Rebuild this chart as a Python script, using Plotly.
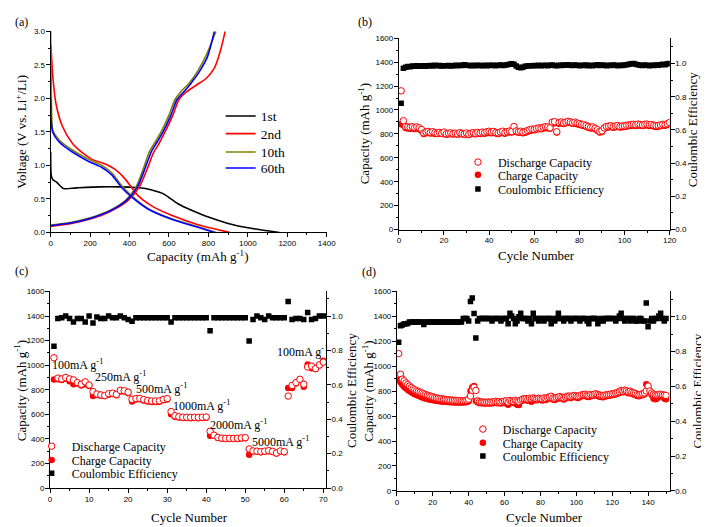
import plotly.graph_objects as go

W, H = 709, 527
SERIF = "Liberation Serif, Times New Roman, Times, serif"
SANS = "Liberation Sans, Arial, sans-serif"

# ---------------- (a) voltage profiles ----------------
c1_dis_cap = [0, 3, 10, 30, 65, 130, 250, 350, 430, 480, 530, 570, 610, 650, 700, 800, 900, 1000, 1100, 1160]
c1_dis_v = [1.2, 0.85, 0.79, 0.75, 0.655, 0.665, 0.68, 0.68, 0.67, 0.655, 0.62, 0.58, 0.5, 0.42, 0.35, 0.23, 0.135, 0.07, 0.025, 0.0]

c2_dis_cap = [0, 2, 5, 10, 27, 60, 110, 160, 210, 277, 327, 377, 443, 510, 610, 743, 850, 910]
c2_dis_v = [2.8, 2.75, 2.6, 2.36, 1.92, 1.58, 1.33, 1.19, 1.09, 1.02, 0.94, 0.80, 0.55, 0.40, 0.26, 0.12, 0.04, 0.0]
c2_chg_cap = [0, 100, 200, 300, 390, 450, 490, 520, 550, 580, 620, 650, 690, 740, 790, 830, 860, 885]
c2_chg_v = [0.09, 0.13, 0.2, 0.31, 0.47, 0.68, 0.95, 1.18, 1.33, 1.5, 1.75, 1.98, 2.1, 2.2, 2.3, 2.45, 2.7, 3.0]

c10_dis_cap = [0, 2, 5, 10, 43, 110, 193, 260, 310, 360, 410, 493, 610, 743, 840]
c10_dis_v = [3.0, 2.4, 1.75, 1.53, 1.38, 1.23, 1.09, 1.0, 0.89, 0.70, 0.55, 0.36, 0.21, 0.09, 0.0]
c10_chg_cap = [0, 100, 200, 300, 380, 430, 470, 500, 530, 560, 600, 630, 660, 700, 740, 790, 838]
c10_chg_v = [0.11, 0.15, 0.22, 0.33, 0.48, 0.66, 0.95, 1.2, 1.35, 1.5, 1.75, 1.98, 2.1, 2.22, 2.38, 2.65, 3.0]

c60_dis_cap = [0, 2, 5, 10, 43, 110, 193, 260, 310, 360, 410, 493, 610, 743, 830]
c60_dis_v = [2.0, 1.7, 1.6, 1.5, 1.35, 1.2, 1.06, 0.97, 0.86, 0.67, 0.53, 0.35, 0.2, 0.08, 0.0]
c60_chg_cap = [0, 100, 200, 300, 385, 440, 478, 510, 540, 570, 610, 640, 670, 710, 750, 795, 830]
c60_chg_v = [0.1, 0.14, 0.21, 0.32, 0.48, 0.68, 0.95, 1.2, 1.35, 1.5, 1.75, 1.98, 2.08, 2.22, 2.38, 2.62, 3.0]

# ---------------- (b) cycling at constant rate ----------------
cycles_b = list(range(1, 121))
dis_b = [1160, 910, 862, 858, 855, 860, 852, 858, 850, 838,
         808, 815, 820, 812, 818, 810, 805, 812, 806, 815,
         800, 805, 808, 802, 806, 800, 810, 804, 800, 808,
         798, 806, 810, 804, 812, 808, 815, 810, 818, 822,
         815, 820, 812, 808, 816, 822, 810, 818, 824, 820,
         862, 825, 818, 822, 815, 820, 828, 835, 840, 838,
         845, 850, 848, 855, 860, 858, 850, 898, 902, 818,
         895, 900, 892, 898, 905, 900, 894, 898, 890, 886,
         880, 876, 870, 862, 855, 858, 848, 835, 820, 825,
         850, 862, 865, 868, 860, 866, 870, 862, 865, 868,
         872, 875, 878, 880, 876, 882, 878, 875, 880, 882,
         876, 878, 872, 868, 870, 875, 880, 878, 885, 895]
chg_b = [880, 872, 850, 845, 842, 846, 840, 845, 838, 826,
         800, 806, 810, 804, 808, 800, 798, 804, 798, 806,
         792, 796, 800, 795, 798, 792, 800, 796, 792, 800,
         790, 798, 800, 796, 803, 800, 806, 802, 808, 812,
         806, 810, 804, 800, 806, 812, 802, 810, 814, 812,
         820, 815, 810, 812, 806, 810, 818, 825, 830, 830,
         836, 840, 838, 846, 850, 848, 842, 885, 890, 812,
         885, 890, 882, 888, 894, 890, 885, 888, 880, 876,
         870, 866, 860, 852, 846, 848, 838, 826, 812, 815,
         842, 852, 855, 858, 852, 856, 860, 853, 856, 858,
         862, 866, 868, 870, 866, 872, 868, 866, 870, 872,
         866, 868, 862, 858, 860, 866, 870, 868, 875, 885]
ce_b = [0.76, 0.972, 0.978, 0.982, 0.980, 0.985, 0.983, 0.986, 0.984, 0.985,
        0.987, 0.984, 0.986, 0.988, 0.985, 0.990, 0.986, 0.988, 0.985, 0.987,
        0.986, 0.988, 0.985, 0.987, 0.989, 0.986, 0.990, 0.988, 0.992, 0.990,
        0.988, 0.986, 0.989, 0.987, 0.990, 0.988, 0.986, 0.989, 0.987, 0.990,
        0.988, 0.990, 0.987, 0.989, 0.991, 0.988, 0.990, 0.993, 0.995, 0.998,
        0.996, 0.985, 0.978, 0.974, 0.978, 0.983, 0.985, 0.987, 0.986, 0.988,
        0.987, 0.989, 0.986, 0.988, 0.990, 0.987, 0.989, 0.991, 0.988, 0.986,
        0.990, 0.988, 0.991, 0.989, 0.993, 0.990, 0.988, 0.991, 0.989, 0.987,
        0.990, 0.988, 0.991, 0.986, 0.989, 0.987, 0.990, 0.992, 0.988, 0.991,
        0.989, 0.987, 0.990, 0.988, 0.991, 0.989, 0.987, 0.990, 0.988, 0.991,
        0.993, 0.995, 0.998, 1.000, 0.996, 0.992, 0.990, 0.988, 0.991, 0.989,
        0.987, 0.990, 0.988, 0.991, 0.989, 0.993, 0.996, 0.992, 0.998, 1.000]

# ---------------- (c) rate capability ----------------
cycles_c = list(range(1, 71))
dis_c = [1060, 895, 888, 900, 888, 880, 858, 845, 864, 838,
         785, 765, 758, 752, 768, 772, 762, 795, 792, 780,
         722, 728, 730, 720, 712, 708, 708, 710, 722, 728,
         622, 588, 580, 576, 576, 575, 576, 575, 576, 578,
         462, 430, 412, 406, 404, 405, 404, 405, 408, 410,
         318, 302, 300, 296, 300, 305, 298, 285, 302, 296,
         748, 835, 858, 885, 845, 985, 992, 972, 1002, 1025]
chg_c = [883, 885, 880, 890, 870, 845, 850, 835, 845, 830,
         748, 758, 752, 748, 760, 765, 755, 785, 785, 772,
         705, 720, 722, 712, 705, 700, 700, 702, 715, 720,
         600, 580, 574, 570, 570, 568, 570, 568, 570, 572,
         425, 425, 408, 402, 400, 400, 400, 400, 403, 405,
         270, 298, 296, 292, 296, 300, 294, 280, 298, 292,
         815, 815, 850, 880, 825, 1005, 975, 968, 998, 1035]
ce_c = [0.825, 0.985, 0.99, 1.0, 0.985, 0.965, 0.985, 0.985, 0.965, 1.0,
        0.96, 0.995, 0.985, 0.985, 1.0, 0.99, 0.99, 1.0, 0.99, 0.98,
        0.97, 0.99, 0.99, 0.99, 0.99, 0.99, 0.99, 0.99, 0.99, 0.99,
        0.965, 0.99, 0.99, 0.99, 0.99, 0.99, 0.99, 0.99, 0.99, 0.99,
        0.915, 0.99, 0.99, 0.99, 0.99, 0.99, 0.99, 0.99, 0.99, 0.99,
        0.855, 0.98, 1.0, 0.99, 0.98, 1.0, 0.99, 0.99, 0.99, 0.99,
        1.085, 0.98, 0.985, 0.985, 0.98, 1.02, 0.98, 0.985, 1.0, 1.0]
rate_labels = ["100mA g<sup>-1</sup>", "250mA g<sup>-1</sup>", "500mA g<sup>-1</sup>",
               "1000mA g<sup>-1</sup>", "2000mA g<sup>-1</sup>", "5000mA g<sup>-1</sup>",
               "100mA g<sup>-1</sup>"]

# ---------------- (d) long cycling ----------------
cycles_d = list(range(1, 151))
dis_d = [1100, 935, 895, 882, 865, 852, 840, 828, 818, 810,
         802, 796, 790, 784, 778, 772, 766, 762, 758, 754,
         748, 745, 742, 740, 738, 735, 733, 731, 729, 728,
         727, 726, 725, 724, 724, 723, 722, 724, 728, 735,
         760, 805, 830, 805, 722, 715, 712, 712, 710, 710,
         712, 710, 712, 715, 718, 712, 715, 710, 716, 720,
         722, 712, 725, 720, 718, 726, 720, 715, 728, 735,
         738, 740, 736, 742, 738, 745, 740, 738, 742, 740,
         738, 745, 740, 748, 752, 758, 745, 740, 748, 752,
         756, 750, 745, 752, 758, 760, 755, 762, 765, 760,
         758, 762, 770, 772, 775, 768, 765, 772, 770, 775,
         778, 772, 768, 765, 762, 768, 770, 772, 775, 778,
         780, 785, 790, 795, 805, 800, 808, 802, 795, 798,
         790, 785, 780, 772, 770, 775, 778, 785, 800, 840,
         800, 785, 775, 770, 768, 772, 775, 770, 768, 765]
chg_d = [890, 870, 850, 835, 822, 810, 800, 790, 782, 775,
         768, 762, 756, 750, 745, 740, 736, 733, 730, 728,
         725, 722, 720, 718, 716, 715, 714, 712, 712, 711,
         710, 710, 709, 709, 708, 708, 708, 710, 712, 718,
         800, 830, 840, 720, 710, 705, 702, 702, 700, 700,
         702, 700, 702, 705, 708, 702, 705, 700, 706, 710,
         700, 690, 715, 710, 705, 715, 690, 688, 718, 725,
         728, 730, 722, 732, 715, 735, 728, 726, 732, 730,
         725, 735, 728, 738, 742, 745, 732, 728, 738, 740,
         745, 740, 732, 742, 748, 750, 745, 752, 755, 748,
         745, 752, 760, 762, 765, 755, 752, 762, 760, 765,
         768, 762, 755, 752, 750, 756, 760, 762, 765, 768,
         770, 775, 780, 785, 795, 790, 795, 790, 782, 786,
         778, 772, 768, 760, 758, 765, 768, 775, 855, 830,
         790, 770, 740, 735, 740, 755, 765, 760, 740, 735]
ce_d = [0.853, 0.948, 0.952, 0.958, 0.960, 0.962, 0.970, 0.968, 0.970, 0.970,
        0.970, 0.970, 0.970, 0.970, 0.955, 0.970, 0.970, 0.970, 0.970, 0.970,
        0.970, 0.970, 0.970, 0.970, 0.970, 0.970, 0.970, 0.970, 0.970, 0.970,
        0.970, 0.970, 0.970, 0.970, 0.970, 0.970, 0.990, 0.990, 0.990, 0.975,
        1.088, 1.108, 1.019, 0.878, 0.976, 0.990, 0.990, 0.990, 0.990, 0.990,
        0.990, 0.990, 0.975, 0.990, 0.990, 0.990, 0.990, 0.975, 0.990, 0.990,
        0.990, 0.960, 1.020, 1.005, 0.990, 0.960, 0.975, 1.000, 1.020, 0.990,
        0.990, 0.990, 0.975, 0.990, 0.960, 1.020, 0.990, 0.990, 0.975, 0.990,
        0.990, 0.975, 0.990, 0.990, 0.990, 0.960, 0.990, 0.975, 0.990, 1.020,
        0.990, 0.990, 0.975, 0.990, 0.990, 0.990, 0.975, 0.990, 0.990, 0.990,
        0.990, 0.975, 0.990, 0.990, 0.990, 0.975, 0.960, 0.990, 0.990, 0.990,
        0.990, 0.960, 0.975, 0.990, 0.975, 0.990, 0.990, 0.990, 0.990, 0.990,
        0.990, 0.975, 0.990, 1.005, 1.020, 0.990, 0.975, 0.990, 0.990, 0.975,
        0.990, 0.990, 0.975, 0.975, 0.990, 0.990, 0.975, 0.975, 1.079, 0.942,
        0.975, 0.990, 0.975, 0.990, 0.990, 1.005, 1.020, 0.990, 0.975, 0.990]


def px(x):
    return x / W


def py(y):
    return 1 - y / H


fig = go.Figure()

# (a) curves
line_sets = [
    ("1st", "black", [(c1_dis_cap, c1_dis_v)], "legend"),
    ("2nd", "#ff0000", [(c2_dis_cap, c2_dis_v), (c2_chg_cap, c2_chg_v)], "legend2"),
    ("10th", "#808000", [(c10_dis_cap, c10_dis_v), (c10_chg_cap, c10_chg_v)], "legend3"),
    ("60th", "#0000ff", [(c60_dis_cap, c60_dis_v), (c60_chg_cap, c60_chg_v)], "legend4"),
]
for name, color, segs, leg in line_sets:
    for i, (xs, ys) in enumerate(segs):
        fig.add_trace(go.Scatter(x=xs, y=ys, mode="lines", name=name,
                                 line=dict(color=color, width=1.6, shape="spline", smoothing=0.7),
                                 showlegend=(i == 0), legend=leg, xaxis="x", yaxis="y"))

# (b)-(d) capacity / CE
panels = [
    (cycles_b, dis_b, chg_b, ce_b, "x2", "y2", "y3", ["legend5", "legend6", "legend7"]),
    (cycles_c, dis_c, chg_c, ce_c, "x3", "y4", "y5", ["legend8", "legend9", "legend10"]),
    (cycles_d, dis_d, chg_d, ce_d, "x4", "y6", "y7", ["legend11", "legend12", "legend13"]),
]
for cyc, dis, chg, ce, xa, ya, yb, legs in panels:
    fig.add_trace(go.Scatter(x=cyc, y=ce, mode="markers", name="Coulombic Efficiency",
                             marker=dict(symbol="square", size=5.5, color="black"),
                             legend=legs[2], xaxis=xa, yaxis=yb))
    fig.add_trace(go.Scatter(x=cyc, y=chg, mode="markers", name="Charge Capacity",
                             marker=dict(symbol="circle", size=6.5, color="#ff0000"),
                             legend=legs[1], xaxis=xa, yaxis=ya))
    fig.add_trace(go.Scatter(x=cyc, y=dis, mode="markers", name="Discharge Capacity",
                             marker=dict(symbol="circle", size=6.5, color="white",
                                         line=dict(color="#ff0000", width=1)),
                             legend=legs[0], xaxis=xa, yaxis=ya))

tickfont = dict(family=SANS, size=8, color="black")
base = dict(showline=True, linecolor="black", linewidth=1, showgrid=False, zeroline=False,
            ticks="outside", ticklen=4, tickwidth=1, tickcolor="black", tickfont=tickfont,
            ticklabelstandoff=-1)


def ax(**kw):
    d = dict(base)
    d.update(kw)
    return d


def minor(step, inside=False):
    return dict(dtick=step, ticks="inside" if inside else "outside", ticklen=2, tickcolor="black")


dom = {
    "a": ([px(41.3), px(321.7)], [py(224.3), py(19.7)]),
    "b": ([px(395), px(670)], [py(221.3), py(26.7)]),
    "c": ([px(40.7), px(321)], [py(484.3), py(284.3)]),
    "d": ([px(393), px(670)], [py(487.3), py(284)]),
}

layout = dict(width=W, height=H, margin=dict(l=0, r=0, t=0, b=0),
              paper_bgcolor="white", plot_bgcolor="white")

# (a)
layout["xaxis"] = ax(domain=dom["a"][0], range=[0, 1400], dtick=200, anchor="y", minor=minor(100))
layout["yaxis"] = ax(domain=dom["a"][1], range=[0, 3.0], dtick=0.5, tickformat=".1f", anchor="x",
                     minor=minor(0.25))
layout["xaxis5"] = ax(overlaying="x", side="top", anchor="y", range=[0, 1400], dtick=200,
                      ticks="inside", showticklabels=False, minor=minor(100, True))
layout["yaxis8"] = ax(overlaying="y", side="right", anchor="x", range=[0, 3.0], dtick=0.5,
                      ticks="inside", showticklabels=False, minor=minor(0.25, True))

# (b), (c), (d)
specs = [
    ("b", "xaxis2", "yaxis2", "yaxis3", "xaxis6", "x2", "y2", [0, 120], 20, 10, 1.152),
    ("c", "xaxis3", "yaxis4", "yaxis5", "xaxis7", "x3", "y4", [0, 70.7], 10, 5, 1.143),
    ("d", "xaxis4", "yaxis6", "yaxis7", "xaxis8", "x4", "y6", [0, 152], 20, 10, 1.147),
]
for key, xk, yk, yrk, xtk, xid, yid, xr, dt, mdt, cetop in specs:
    layout[xk] = ax(domain=dom[key][0], range=xr, dtick=dt, anchor=yid, minor=minor(mdt))
    layout[yk] = ax(domain=dom[key][1], range=[0, 1600], dtick=200, anchor=xid, minor=minor(100))
    layout[yrk] = ax(overlaying=yid, side="right", anchor=xid, range=[0, cetop], dtick=0.2,
                     tickformat=".1f", minor=minor(0.1))
    layout[xtk] = ax(overlaying=xid, side="top", anchor=yid, range=xr, dtick=dt,
                     ticks="inside", showticklabels=False, minor=minor(mdt, True))


# legends: one per entry so that row spacing follows the reference
def leg(xp, yp, size=12):
    return dict(x=px(xp), y=py(yp), xanchor="left", yanchor="middle", bgcolor="rgba(0,0,0,0)",
                borderwidth=0, itemwidth=30, font=dict(family=SERIF, size=size, color="black"))


for i, yy in enumerate([106, 124, 142.7, 159]):
    layout["legend" if i == 0 else "legend%d" % (i + 1)] = leg(214, yy, 13.5)
for start, (lx, rows) in zip([5, 8, 11], [(455, [152.7, 165.7, 180]),
                                          (22, [441.7, 455.7, 469.3]),
                                          (460, [424.3, 438.3, 451.7])]):
    for j, yy in enumerate(rows):
        layout["legend%d" % (start + j)] = leg(lx, yy)

ann = []


def txt(text, x, y, angle=0, size=13, xanchor="center"):
    ann.append(dict(text=text, x=px(x), y=py(y), xref="paper", yref="paper", showarrow=False,
                    textangle=angle, xanchor=xanchor, yanchor="middle",
                    font=dict(family=SERIF, size=size, color="black")))


txt("(a)", 3, 10, size=12, xanchor="left")
txt("(b)", 351, 10, size=12, xanchor="left")
txt("(c)", 3, 264, size=12, xanchor="left")
txt("(d)", 356, 264.5, size=12, xanchor="left")

txt("Capacity (mAh g<sup>-1</sup>)", 190, 248)
txt("Voltage (V vs. Li<sup>+</sup>/Li)", 11, 122, angle=-90)
txt("Cycle Number", 535, 247.5)
txt("Capacity (mAh g<sup>-1</sup>)", 359, 124, angle=-90)
txt("Coulombic Efficiency", 694, 120, angle=-90)
txt("Cycle Number", 182, 514.3)
txt("Capacity (mAh g<sup>-1</sup>)", 11, 385, angle=-90)
txt("Coulombic Efficiency", 347, 385, angle=-90)
txt("Cycle Number", 543, 514.3)
txt("Capacity (mAh g<sup>-1</sup>)", 364, 386, angle=-90)
txt("Coulombic Efficiency", 698, 386, angle=-90)

rate_pos = [(0.1, 1002), (10.9, 909), (21.5, 808), (30.9, 669), (40.4, 520), (51.3, 376), (57.7, 1114)]
for label, (cx, cy) in zip(rate_labels, rate_pos):
    ann.append(dict(text=label, x=cx, y=cy, xref="x3", yref="y4", showarrow=False,
                    xanchor="left", yanchor="middle", font=dict(family=SERIF, size=12, color="black")))

layout["annotations"] = ann
fig.update_layout(**layout)
fig.write_html("out.html")
